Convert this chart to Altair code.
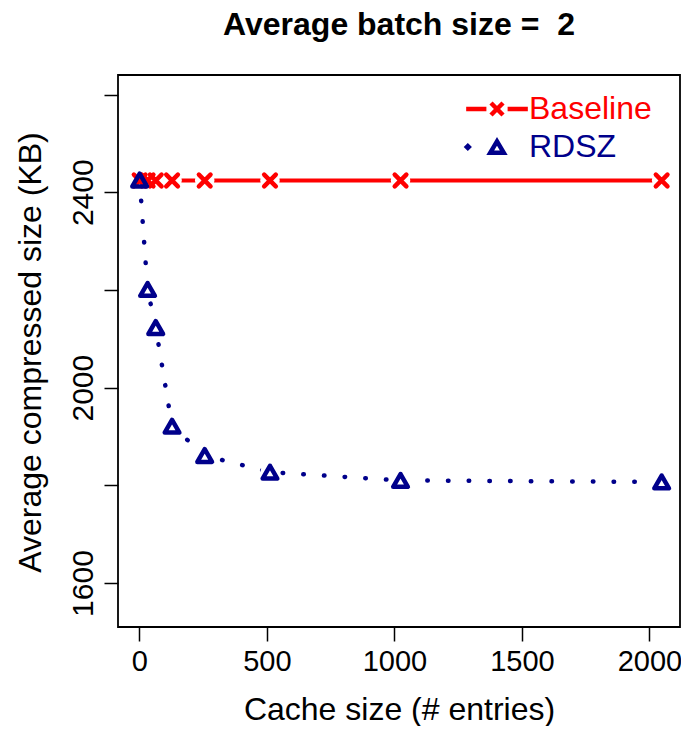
import altair as alt
import pandas as pd

# ---- data ----
cache_sizes = [1, 32, 64, 128, 256, 512, 1024, 2048]
baseline_kb = [2424, 2424, 2424, 2424, 2424, 2424, 2424, 2424]
rdsz_kb = [2425, 2201, 2123, 1921, 1861, 1827, 1810, 1807]
series_names = ["Baseline", "RDSZ"]
x_ticks = [0, 500, 1000, 1500, 2000]
y_ticks = [1600, 1800, 2000, 2200, 2400, 2600]

RED = "#FF0000"
BLUE = "#00008B"
FONT = "Liberation Sans, Arial, sans-serif"

df_base = pd.DataFrame({"cache": cache_sizes, "size": baseline_kb})
df_rdsz = pd.DataFrame({"cache": cache_sizes, "size": rdsz_kb})
df_leg = pd.DataFrame({"series": series_names})

x_scale = alt.Scale(domain=[-84, 2120], nice=False, zero=False)
y_scale = alt.Scale(domain=[1510, 2640], nice=False, zero=False)

x_axis = alt.Axis(
    values=x_ticks, format="d", grid=False, domain=False,
    tickSize=14, tickWidth=1.5, tickColor="black",
    labelFont=FONT, labelFontSize=29, labelColor="black",
    labelBaseline="top", labelPadding=6, labelFlush=False, labelOverlap=False,
    title="Cache size (# entries)", titleFont=FONT, titleFontSize=32,
    titleFontWeight="normal", titleColor="black",
    titleX=281, titleY=92, titleAlign="center", titleBaseline="alphabetic",
)
y_axis = alt.Axis(
    values=y_ticks, format="d", grid=False, domain=False,
    tickSize=14, tickWidth=1.5, tickColor="black",
    labelFont=FONT, labelFontSize=30, labelColor="black",
    labelAngle=270, labelAlign="center", labelBaseline="alphabetic",
    labelPadding=12, labelFlush=False, labelOverlap=False,
    labelExpr="datum.value % 400 == 0 ? datum.label : ''",
    title="Average compressed size (KB)", titleFont=FONT, titleFontSize=32,
    titleFontWeight="normal", titleColor="black",
    titleAngle=270, titleX=-78, titleY=277, titleAlign="center",
    titleBaseline="alphabetic",
)

X_PATH = "M-1,-1L1,1M1,-1L-1,1"
TRI_PATH = "M0,-0.87L1,0.87L-1,0.87Z"
LEG_BASE = "M-4.36,0L-1.5,0M1.5,0L4.36,0M-0.85,-0.85L0.85,0.85M0.85,-0.85L-0.85,0.85"
LEG_RDSZ = ("M-4.13,-0.13L-4.0,0L-4.13,0.13L-4.26,0Z"
            "M0,-0.8L0.95,0.8L-0.95,0.8Z")

enc = dict(
    x=alt.X("cache:Q", scale=x_scale, axis=x_axis),
    y=alt.Y("size:Q", scale=y_scale, axis=y_axis),
)

rdsz_line = alt.Chart(df_rdsz).mark_line(
    color=BLUE, strokeWidth=4.5, strokeDash=[0.5, 20.2], strokeCap="round"
).encode(**enc)
rdsz_gap = alt.Chart(df_rdsz).mark_point(
    shape="circle", filled=True, color="white", size=380, opacity=1
).encode(**enc)
base_line = alt.Chart(df_base).mark_line(color=RED, strokeWidth=4).encode(**enc)
base_gap = alt.Chart(df_base).mark_point(
    shape="circle", filled=True, color="white", size=380, opacity=1
).encode(**enc)
base_pts = alt.Chart(df_base).mark_point(
    shape=X_PATH, filled=False, color=RED, strokeWidth=4.5, size=135,
    opacity=1, strokeCap="round"
).encode(**enc)
rdsz_pts = alt.Chart(df_rdsz).mark_point(
    shape=TRI_PATH, filled=False, color=BLUE, strokeWidth=4.5, size=215,
    opacity=1, strokeJoin="round"
).encode(**enc)

legend = alt.Legend(
    title=None, orient="none", legendX=363, legendY=18, padding=0,
    symbolSize=200, symbolStrokeWidth=4.5, symbolFillColor="transparent",
    labelFont=FONT, labelFontSize=32, labelOffset=16, rowPadding=6,
    labelColor=alt.ExprRef("datum.value === 'Baseline' ? '#FF0000' : '#00008B'"),
    labelLimit=0,
)
leg_holder = alt.Chart(df_leg).transform_filter("false").mark_point(
    filled=False, size=200, strokeWidth=4.5, opacity=1
).encode(
    stroke=alt.Stroke("series:N", scale=alt.Scale(domain=series_names, range=[RED, BLUE]),
                      legend=legend),
    shape=alt.Shape("series:N", scale=alt.Scale(domain=series_names, range=[LEG_BASE, LEG_RDSZ]),
                    legend=legend),
)

chart = alt.layer(
    rdsz_line, rdsz_gap, base_line, base_gap, base_pts, rdsz_pts, leg_holder
).properties(
    width=562, height=552,
    title=alt.TitleParams(
        "Average batch size = \u00a02", font=FONT, fontSize=32, fontWeight="bold",
        color="black", anchor="middle", offset=8, baseline="alphabetic",
    ),
    autosize=alt.AutoSizeParams(type="none"),
    padding={"left": 110, "top": 67, "right": 1, "bottom": 99},
).configure_view(stroke="black", strokeWidth=1.8)

chart.save("out.html", embed_options={"renderer": "svg", "actions": False})
